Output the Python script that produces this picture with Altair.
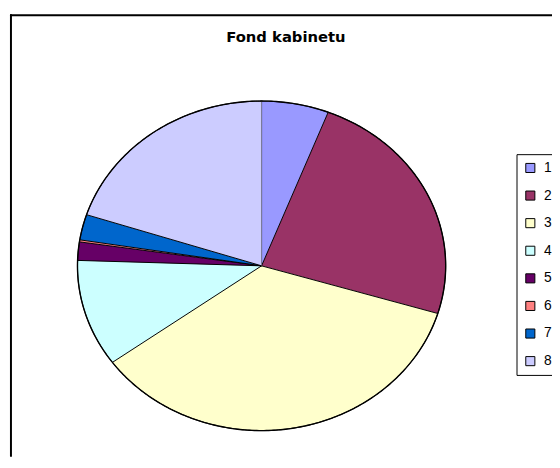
import altair as alt
import pandas as pd

categories = [1, 2, 3, 4, 5, 6, 7, 8]
values = [5.9, 23.8, 35.4, 10.5, 1.8, 0.2, 2.5, 20.0]
colors = ["#9999FF", "#993366", "#FFFFCC", "#CCFFFF", "#660066", "#FF8080", "#0066CC", "#CCCCFF"]
title_text = ["Fond kabinetu"]

W, H = 550, 449
CX, CY, RX, RY = 255.3, 255.3, 186.8, 167.2
N = 120

df = pd.DataFrame({"cat": categories, "value": values})

pie = (
    alt.Chart(df)
    .transform_window(cum="sum(value)", sort=[alt.SortField("cat")], frame=[None, 0])
    .transform_joinaggregate(total="sum(value)")
    .transform_calculate(
        a1="2*PI*(datum.cum - datum.value)/datum.total",
        a2="2*PI*datum.cum/datum.total",
        steps=f"sequence(0, {N + 2})",
    )
    .transform_flatten(["steps"], as_=["k"])
    .transform_calculate(ang=f"datum.a1 + (datum.a2 - datum.a1)*(datum.k - 1)/{N}")
    .transform_calculate(
        px=f"datum.k == 0 ? {CX} : {CX} + {RX}*sin(datum.ang)",
        py=f"datum.k == 0 ? {CY} : {CY} - {RY}*cos(datum.ang)",
    )
    .mark_line(stroke="black", strokeWidth=1, strokeJoin="round")
    .encode(
        x=alt.X("px:Q", scale=alt.Scale(domain=[0, W], nice=False, zero=False), axis=None),
        y=alt.Y("py:Q", scale=alt.Scale(domain=[0, H], nice=False, zero=False, reverse=True), axis=None),
        detail="cat:N",
        order="k:Q",
        fill=alt.Fill(
            "cat:N",
            scale=alt.Scale(domain=categories, range=colors),
            title=None,
            legend=alt.Legend(
                orient="none",
                legendX=514,
                legendY=142,
                padding=7,
                strokeColor="black",
                fillColor="white",
                rowPadding=14,
                symbolType="square",
                symbolSize=85,
                symbolStrokeColor="black",
                symbolStrokeWidth=1,
                labelFont="Liberation Sans",
                labelFontSize=14,
                labelColor="black",
                labelOffset=7,
            ),
        ),
    )
)

# thin outer outline slightly heavier, as in the reference
outline = (
    alt.Chart(df)
    .transform_aggregate(total="sum(value)")
    .transform_calculate(steps=f"sequence(0, {4 * N + 1})")
    .transform_flatten(["steps"], as_=["k"])
    .transform_calculate(ang=f"2*PI*datum.k/{4 * N}")
    .transform_calculate(
        px=f"{CX} + {RX}*sin(datum.ang)",
        py=f"{CY} - {RY}*cos(datum.ang)",
    )
    .mark_line(color="black", strokeWidth=1.4)
    .encode(x="px:Q", y="py:Q", order="k:Q")
)

title_layer = (
    alt.Chart(pd.DataFrame({"t": title_text}))
    .mark_text(font="DejaVu Sans", fontWeight="bold", fontSize=15, align="center", baseline="alphabetic", color="black")
    .encode(text="t:N", x=alt.value(280), y=alt.value(28))
)

one = pd.DataFrame({"a": [0]})
rule_left = alt.Chart(one).mark_rule(color="black", strokeWidth=2).encode(
    x=alt.value(1), y=alt.value(0), y2=alt.value(H)
)
rule_top = alt.Chart(one).mark_rule(color="black", strokeWidth=2).encode(
    x=alt.value(0), x2=alt.value(W), y=alt.value(1)
)

chart = (
    alt.layer(pie, outline, title_layer, rule_left, rule_top)
    .properties(
        width=W,
        height=H,
        padding={"left": 2, "top": 3, "right": 0, "bottom": 0},
        autosize=alt.AutoSizeParams(type="none"),
    )
    .configure_view(strokeWidth=0)
)

chart.save("out.html", embed_options={"renderer": "svg", "actions": False})
